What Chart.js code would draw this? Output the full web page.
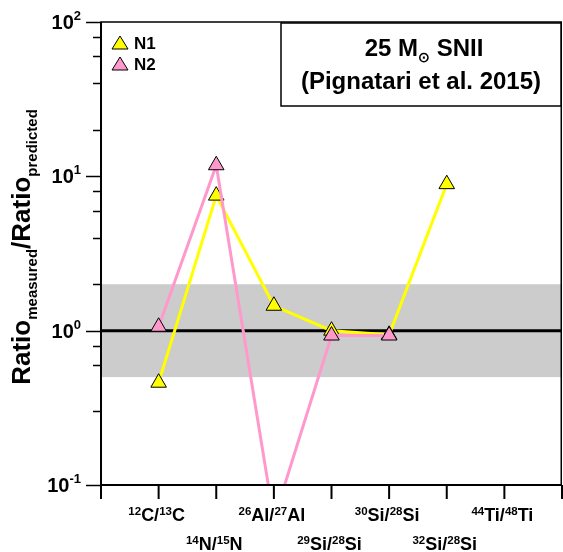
<!DOCTYPE html>
<html>
<head>
<meta charset="utf-8">
<script src="https://cdn.jsdelivr.net/npm/chart.js@4"></script>
<style>
  html, body { margin: 0; padding: 0; background: #fff; }
</style>
</head>
<body>
<canvas id="ratioChart" width="563" height="552"></canvas>
<script>
// isotope ratios along the x axis
var categories = ['12C/13C', '14N/15N', '26Al/27Al', '29Si/28Si', '30Si/28Si', '32Si/28Si', '44Ti/48Ti'];
// measured / predicted ratios per grain
var n1Values = [0.46, 7.5, 1.45, 1.0, 0.94, 8.9, null];
var n2Values = [1.06, 11.8, 0.06, 0.93, 0.93, null, null];
// log axis decades and their exponents
var yMajorTicks = [0.1, 1, 10, 100];
var yTickExponents = ['-1', '0', '1', '2'];
var bandLow = 0.5, bandHigh = 2;
var refValue = 1;

var FONT = '"Liberation Sans", Arial, sans-serif';

// empty slot at each end so the categories sit between the frame edges
var labels = [''].concat(categories, ['']);
function pad(arr) { return [null].concat(arr, [null]); }

// text with superscript / subscript pieces: parts = [[text, 'n'|'sup'|'sub'], ...]
function richWidth(ctx, parts, big, small) {
  var w = 0;
  parts.forEach(function (p) {
    ctx.font = 'bold ' + (p[1] == 'n' ? big : small) + 'px ' + FONT;
    w += ctx.measureText(p[0]).width;
  });
  return w;
}
function drawRich(ctx, parts, x, y, big, small, supShift, subShift) {
  parts.forEach(function (p) {
    var size = p[1] == 'n' ? big : small;
    var dy = p[1] == 'sup' ? -supShift : (p[1] == 'sub' ? subShift : 0);
    ctx.font = 'bold ' + size + 'px ' + FONT;
    ctx.fillText(p[0], x, y + dy);
    x += ctx.measureText(p[0]).width;
  });
}
function isotopeParts(label) {
  var parts = [];
  label.split('/').forEach(function (iso, i) {
    var m = iso.match(/^(\d+)([A-Za-z]+)$/);
    if (i > 0) parts.push(['/', 'n']);
    parts.push([m[1], 'sup']);
    parts.push([m[2], 'n']);
  });
  return parts;
}

// grey band and the 1:1 line under the data
var bandPlugin = {
  id: 'band',
  beforeDatasetsDraw: function (chart) {
    var ctx = chart.ctx, a = chart.chartArea, y = chart.scales.y;
    var yHi = y.getPixelForValue(bandHigh), yLo = y.getPixelForValue(bandLow);
    ctx.save();
    ctx.fillStyle = '#cccccc';
    ctx.fillRect(a.left, yHi, a.right - a.left, yLo - yHi);
    var y1 = y.getPixelForValue(refValue);
    ctx.strokeStyle = '#000';
    ctx.lineWidth = 3;
    ctx.beginPath();
    ctx.moveTo(a.left, y1);
    ctx.lineTo(a.right, y1);
    ctx.stroke();
    ctx.restore();
  }
};

// frame, ticks, tick labels, axis title, legend and the model box
var decorPlugin = {
  id: 'decor',
  afterDraw: function (chart) {
    var ctx = chart.ctx, a = chart.chartArea;
    var xs = chart.scales.x, ys = chart.scales.y;
    ctx.save();
    ctx.strokeStyle = '#000';
    ctx.fillStyle = '#000';

    // frame
    ctx.lineWidth = 1.5;
    ctx.strokeRect(a.left, a.top, a.right - a.left - 0.75, a.bottom - a.top);
    ctx.lineWidth = 2;
    ctx.beginPath();
    ctx.moveTo(a.left, a.top); ctx.lineTo(a.left, a.bottom); ctx.lineTo(a.right, a.bottom);
    ctx.stroke();

    // y ticks, major and minor
    ctx.lineWidth = 1.5;
    ys.ticks.forEach(function (t) {
      var v = t.value;
      var py = Math.round(ys.getPixelForValue(v)) + 0.5;
      var mant = v / Math.pow(10, Math.floor(Math.log10(v) + 1e-9));
      var major = Math.abs(mant - 1) < 1e-6;
      ctx.beginPath();
      ctx.moveTo(a.left - (major ? 15 : 8), py);
      ctx.lineTo(a.left, py);
      ctx.stroke();
    });
    // y tick labels 10^n
    ctx.textBaseline = 'alphabetic';
    yMajorTicks.forEach(function (v, i) {
      var py = ys.getPixelForValue(v);
      var parts = [['10', 'n'], [yTickExponents[i], 'sup']];
      var w = richWidth(ctx, parts, 20, 13);
      drawRich(ctx, parts, a.left - 20 - w, py + 7, 20, 13, 9, 0);
    });

    // x ticks
    ctx.lineWidth = 2;
    for (var i = 0; i < labels.length; i++) {
      var px = xs.getPixelForValue(i);
      ctx.beginPath();
      ctx.moveTo(px, a.bottom);
      ctx.lineTo(px, a.bottom + 14);
      ctx.stroke();
    }
    // x labels on two staggered rows
    categories.forEach(function (c, k) {
      var parts = isotopeParts(c);
      var px = xs.getPixelForValue(k + 1);
      var w = richWidth(ctx, parts, 18, 11.5);
      var base = k % 2 == 0 ? 521 : 550;
      drawRich(ctx, parts, px - w / 2 - 2, base, 18, 11.5, 6, 0);
    });

    // y axis title
    ctx.save();
    ctx.translate(30, 247);
    ctx.rotate(-Math.PI / 2);
    var tparts = [['Ratio', 'n'], ['measured', 'sub'], ['/Ratio', 'n'], ['predicted', 'sub']];
    var tw = richWidth(ctx, tparts, 26, 15);
    drawRich(ctx, tparts, -tw / 2, 0, 26, 15, 0, 7);
    ctx.restore();

    // legend
    var leg = [['N1', '#ffff00'], ['N2', '#ff99cc']];
    leg.forEach(function (l, k) {
      var cy = 43 + k * 21;
      ctx.beginPath();
      ctx.moveTo(120, cy - 7);
      ctx.lineTo(128, cy + 6);
      ctx.lineTo(112, cy + 6);
      ctx.closePath();
      ctx.fillStyle = l[1];
      ctx.fill();
      ctx.lineWidth = 1;
      ctx.strokeStyle = '#000';
      ctx.stroke();
      ctx.fillStyle = '#000';
      ctx.font = 'bold 17px ' + FONT;
      ctx.fillText(l[0], 134, cy + 6);
    });

    // model box
    ctx.lineWidth = 1.5;
    ctx.strokeRect(281, a.top + 1, a.right - 281 - 0.75, 83);
    ctx.font = 'bold 24px ' + FONT;
    var wA = ctx.measureText('25 M').width;
    var wSun = 12;
    var wB = ctx.measureText(' SNII').width;
    var x0 = 424 - (wA + wSun + wB) / 2;
    ctx.fillText('25 M', x0, 56);
    // solar symbol as a small subscript
    ctx.font = 'bold 14px ' + FONT;
    ctx.fillText('\u2299', x0 + wA, 62);
    ctx.font = 'bold 24px ' + FONT;
    ctx.fillText(' SNII', x0 + wA + wSun, 56);
    ctx.textAlign = 'center';
    ctx.fillText('(Pignatari et al. 2015)', 421, 89);

    ctx.restore();
  }
};

var ctx = document.getElementById('ratioChart').getContext('2d');
var ratioChart = new Chart(ctx, {
  type: 'line',
  data: {
    labels: labels,
    datasets: [
      { label: 'N1', data: pad(n1Values), borderColor: '#ffff00',
        pointBackgroundColor: '#ffff00', pointBorderColor: '#000', order: 2 },
      { label: 'N2', data: pad(n2Values), borderColor: '#ff99cc',
        pointBackgroundColor: '#ff99cc', pointBorderColor: '#000', order: 1 }
    ]
  },
  options: {
    responsive: false,
    animation: false,
    spanGaps: false,
    layout: { autoPadding: false, padding: { left: 101, right: 1, top: 22, bottom: 67 } },
    elements: {
      line: { borderWidth: 3, tension: 0 },
      point: { pointStyle: 'triangle', radius: 9, borderWidth: 1 }
    },
    plugins: { legend: { display: false }, tooltip: { enabled: false } },
    scales: {
      x: { type: 'category', offset: false, display: false },
      y: { type: 'logarithmic', min: 0.1, max: 100, display: false }
    }
  },
  plugins: [bandPlugin, decorPlugin]
});
</script>
</body>
</html>
